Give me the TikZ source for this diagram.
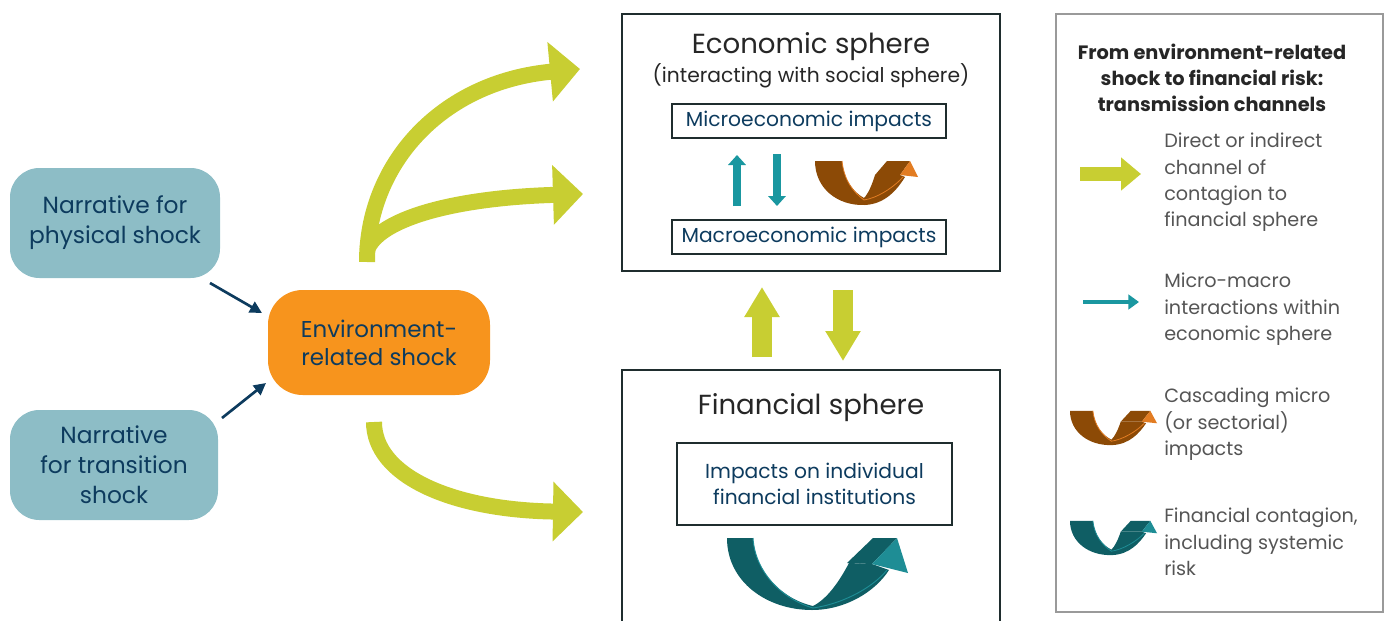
\documentclass[tikz,border=0pt]{standalone}
\usepackage{fontspec}
\setmainfont{Poppins}
\usetikzlibrary{arrows.meta}
\definecolor{grn}{HTML}{C8CE32}
\definecolor{tealA}{HTML}{1A97A0}
\definecolor{navy}{HTML}{0D3B5E}
\definecolor{narr}{HTML}{8DBDC6}
\definecolor{orng}{HTML}{F7941D}
\definecolor{brownD}{HTML}{8C4A06}
\definecolor{orngL}{HTML}{E27C22}
\definecolor{tealD}{HTML}{0F5E64}
\definecolor{tealL}{HTML}{1E8D95}
\definecolor{legtxt}{HTML}{555555}
\definecolor{bord}{HTML}{1F2D2E}
\definecolor{legbord}{HTML}{9A9A9A}
\newcommand\curlA[2]{%
  \fill[#1] (0,1) .. controls (0,28) and (22,46) .. (50,45) .. controls (70,44) and (82,30) .. (90,17) -- (85,15) -- (60,15) .. controls (57,25) and (53,34) .. (49,38) .. controls (38,32) and (29,20) .. (27,1) -- cycle;
  \draw[#2, line width=0.6pt] (27,1) .. controls (29,20) and (38,32) .. (49,40) .. controls (62,38) and (78,28) .. (88,17);
  \fill[#1] (60,15) -- (72,1) -- (95,1) -- (85,15) -- cycle;
  \fill[#2] (85,15) -- (95,1) -- (103,17) -- cycle;}
\newcommand\curlB[2]{%
  \fill[#1] (0,1) .. controls (0,45) and (40,73) .. (85,73) .. controls (118,73) and (148,55) .. (162,33) -- (145,27) -- (122,26) .. controls (112,45) and (100,62) .. (86,69) .. controls (55,62) and (28,35) .. (26,1) -- cycle;
  \draw[#2, line width=0.7pt] (26,1) .. controls (28,35) and (55,62) .. (86,71) .. controls (120,66) and (148,48) .. (160,33);
  \fill[#1] (120,26) -- (146,1) -- (170,1) -- (145,27) -- cycle;
  \fill[#2] (145,27) -- (170,1) -- (181,36) -- cycle;}
\tikzset{
  narrbox/.style={fill=narr, rounded corners=22pt, text=navy, align=center, font=\fontsize{17.5}{22.5}\selectfont, inner sep=0pt},
  spherebox/.style={draw=bord, line width=0.9pt, inner sep=0pt},
  subbox/.style={draw=bord, line width=0.9pt, text=navy, align=center, font=\fontsize{15.2}{20}\selectfont, inner sep=0pt},
  title/.style={text=black!85, font=\fontsize{20.7}{24}\selectfont, inner sep=0pt},
  legitem/.style={text=legtxt, align=left, anchor=west, font=\fontsize{14.4}{19.8}\selectfont, inner sep=0pt},
  greenarrow/.style={grn, line width=12pt, -{Triangle[length=22.5pt,width=43.5pt]}},
  blockarrow/.style={grn, line width=15pt, -{Triangle[length=22.5pt,width=25pt]}},
  microarrow/.style={tealA, line width=6.5pt, -{Triangle[length=7.5pt,width=13pt]}},
  navyarrow/.style={navy, line width=2pt, -{Triangle[length=9pt,width=9pt]}},
  orangecurl/.pic={\curlA{brownD}{orngL}},
  tealcurl/.pic={\curlA{tealD}{tealL}},
  bigtealcurl/.pic={\curlB{tealD}{tealL}}
}
\begin{document}
\begin{tikzpicture}[x=0.75pt,y=-0.75pt]
\useasboundingbox (0,0) rectangle (1390,621);
% left boxes
\node[narrbox, minimum width=157.5pt, minimum height=82.5pt] (phys) at (115,223) {Narrative for\\physical shock};
\node[narrbox, minimum width=156pt, minimum height=82.5pt] (trans) at (114,465) {Narrative\\for transition\\shock};
\node[fill=orng, rounded corners=26pt, text=navy, align=center, font=\fontsize{17.2}{21}\selectfont, minimum width=166.5pt, minimum height=78.75pt, inner sep=0pt] (env) at (379,342.5) {Environment-\\related shock};
% navy arrows
\coordinate (p1) at (210,283); \coordinate (p2) at (262,313);
\coordinate (t1) at (222,418); \coordinate (t2) at (266,383);
\draw[navyarrow] (p1) -- (p2);
\draw[navyarrow] (t1) -- (t2);
% green arrows
\coordinate (g0) at (367,262); \coordinate (g1) at (580,69);
\coordinate (g2) at (367,250); \coordinate (g3) at (583,194);
\coordinate (g4) at (374,422); \coordinate (g5) at (583,512);
\draw[greenarrow] (g0) .. controls (367,165) and (440,82) .. (g1);
\draw[greenarrow] (g2) .. controls (378,220) and (450,198) .. (g3);
\draw[greenarrow] (g4) .. controls (374,475) and (450,510) .. (g5);
% economic sphere
\node[spherebox, minimum width=283.5pt, minimum height=192.75pt] (econ) at (811,142.5) {};
\node[title] (econt) at (811,47) {Economic sphere};
\node[text=black!85, font=\fontsize{15.2}{18}\selectfont, inner sep=0pt] (econs) at (811,76) {(interacting with social sphere)};
\node[subbox, minimum width=205.5pt, minimum height=25.5pt] (micro) at (809,121) {Microeconomic impacts};
\node[subbox, minimum width=205.5pt, minimum height=25.5pt] (macro) at (809,237) {Macroeconomic impacts};
\coordinate (m1) at (737,206); \coordinate (m2) at (737,155);
\coordinate (m3) at (777,154); \coordinate (m4) at (777,206);
\draw[microarrow] (m1) -- (m2);
\draw[microarrow] (m3) -- (m4);
\pic at (815,160) {orangecurl};
% between spheres
\coordinate (b1) at (762,357); \coordinate (b2) at (762,287);
\coordinate (b3) at (843,290); \coordinate (b4) at (843,361);
\draw[blockarrow] (b1) -- (b2);
\draw[blockarrow] (b3) -- (b4);
% financial sphere
\node[spherebox, minimum width=283.5pt, minimum height=202.5pt] (fin) at (811,505) {};
\node[title] (fint) at (811,408) {Financial sphere};
\node[subbox, minimum width=206.25pt, minimum height=61.5pt] (indiv) at (814.5,484) {Impacts on individual\\financial institutions};
\pic at (727,537) {bigtealcurl};
% legend
\node[draw=legbord, line width=0.8pt, minimum width=245.25pt, minimum height=448.5pt, inner sep=0pt] (leg) at (1219.5,313) {};
\node[text=black!85, align=center, font=\bfseries\fontsize{14.5}{19.5}\selectfont, inner sep=0pt] (legt) at (1212,78) {From environment-related\\shock to financial risk:\\transmission channels};
\coordinate (l1) at (1080,174); \coordinate (l2) at (1141,174);
\draw[grn, line width=10.5pt, -{Triangle[length=15pt,width=24pt]}] (l1) -- (l2);
\node[legitem] (li1) at (1164,182.5) {Direct or indirect\\channel of\\contagion to\\financial sphere};
\coordinate (l3) at (1083,302); \coordinate (l4) at (1139,302);
\draw[tealA, line width=3.5pt, -{Triangle[length=8pt,width=11pt]}] (l3) -- (l4);
\node[legitem] (li2) at (1164,309.5) {Micro-macro\\interactions within\\economic sphere};
\pic[xscale=0.845, yscale=0.78] at (1070,410) {orangecurl};
\node[legitem] (li3) at (1164,424.5) {Cascading micro\\(or sectorial)\\impacts};
\pic[xscale=0.845, yscale=0.78] at (1070,520) {tealcurl};
\node[legitem] (li4) at (1164,542) {Financial contagion,\\including systemic\\risk};
\end{tikzpicture}
\end{document}
